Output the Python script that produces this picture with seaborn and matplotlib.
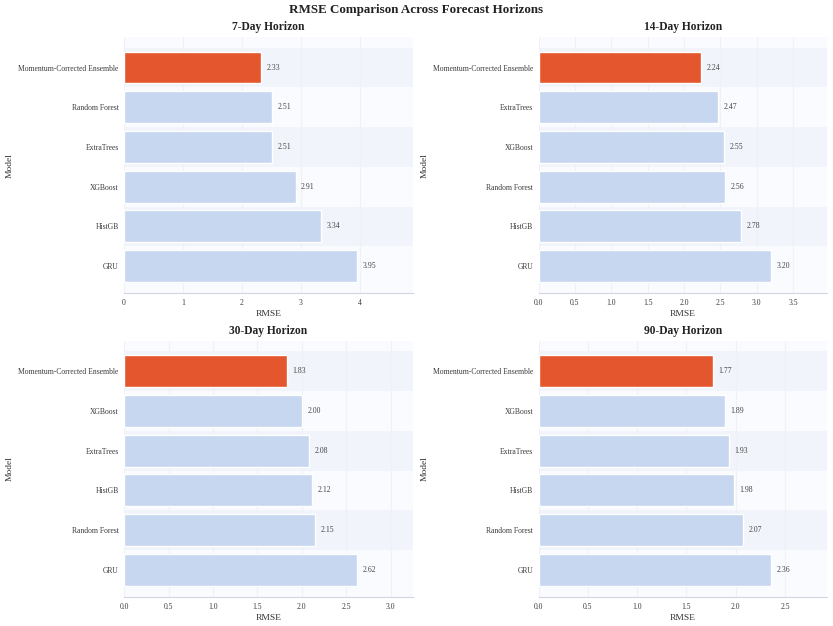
import pandas as pd
import matplotlib
matplotlib.use("Agg")
import matplotlib.pyplot as plt
import seaborn as sns

# Data
horizons = ["7-Day Horizon", "14-Day Horizon", "30-Day Horizon", "90-Day Horizon"]

models_7 = ["Momentum-Corrected Ensemble", "Random Forest", "ExtraTrees", "XGBoost", "HistGB", "GRU"]
rmse_7 = [2.33, 2.51, 2.51, 2.91, 3.34, 3.95]

models_14 = ["Momentum-Corrected Ensemble", "ExtraTrees", "XGBoost", "Random Forest", "HistGB", "GRU"]
rmse_14 = [2.24, 2.47, 2.55, 2.56, 2.78, 3.20]

models_30 = ["Momentum-Corrected Ensemble", "XGBoost", "ExtraTrees", "HistGB", "Random Forest", "GRU"]
rmse_30 = [1.83, 2.00, 2.08, 2.12, 2.15, 2.62]

models_90 = ["Momentum-Corrected Ensemble", "XGBoost", "ExtraTrees", "HistGB", "Random Forest", "GRU"]
rmse_90 = [1.77, 1.89, 1.93, 1.98, 2.07, 2.36]

panels = [(models_7, rmse_7), (models_14, rmse_14), (models_30, rmse_30), (models_90, rmse_90)]

highlight = "Momentum-Corrected Ensemble"
hl_color = "#e4572e"
base_color = "#c7d7ef"

sns.set_theme(style="white")
plt.rcParams["font.family"] = ["Liberation Serif", "DejaVu Serif"]

fig, axes = plt.subplots(2, 2, figsize=(8.33, 6.26), dpi=100)
fig.subplots_adjust(left=0.149, right=0.993, top=0.941, bottom=0.046,
                    wspace=0.436, hspace=0.184)

for ax, title, (models, vals) in zip(axes.flat, horizons, panels):
    df = pd.DataFrame({"Model": models, "RMSE": vals})
    pal = {m: (hl_color if m == highlight else base_color) for m in models}

    ax.set_facecolor("#f9fbfe")
    # alternating row bands
    for i in range(len(models)):
        if i % 2 == 0:
            ax.axhspan(i - 0.5, i + 0.5, color="#f1f4fa", zorder=0, lw=0)

    sns.barplot(data=df, x="RMSE", y="Model", hue="Model", palette=pal,
                legend=False, orient="h", width=0.8, saturation=1, ax=ax,
                edgecolor="white", linewidth=1, zorder=2)

    for i, v in enumerate(vals):
        ax.annotate(f"{v:.2f}", xy=(v, i), xytext=(4, 0), textcoords="offset points",
                    ha="left", va="center", fontsize=5.6, color="#444444")

    ax.set_xlim(0, max(vals) * 1.24)
    ax.set_ylim(5.69, -0.77)
    ax.xaxis.grid(True, color="#f0f1f6", linewidth=0.8, zorder=1)
    ax.set_axisbelow(True)

    ax.set_title(title, fontsize=8.3, fontweight="bold", color="#222222", pad=5)
    ax.set_xlabel("RMSE", fontsize=6.8, color="#333333", labelpad=2.5)
    ax.set_ylabel("Model", fontsize=6.8, color="#333333")
    ax.yaxis.set_label_coords(-0.382, 0.5)
    ax.tick_params(axis="both", labelsize=5.5, colors="#3a3a3a", length=0, pad=4)

    for side in ["top", "right", "left"]:
        ax.spines[side].set_visible(False)
    ax.spines["bottom"].set_color("#d3d4e4")
    ax.spines["bottom"].set_linewidth(0.8)

fig.suptitle("RMSE Comparison Across Forecast Horizons", fontsize=9.4,
             fontweight="bold", color="#222222", y=0.993)

plt.savefig("out.png", dpi=100)
